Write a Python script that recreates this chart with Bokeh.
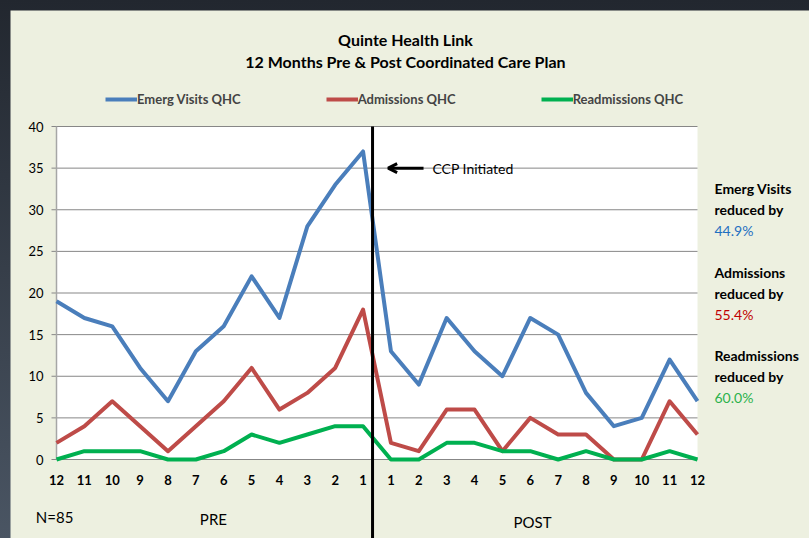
from bokeh.plotting import figure
from bokeh.models import Range1d, Label, Arrow, OpenHead, Legend, LegendItem, BoxAnnotation
from bokeh.core.properties import value
from bokeh.embed import file_html
from bokeh.resources import INLINE

# ---- data ----
months = ["12", "11", "10", "9", "8", "7", "6", "5", "4", "3", "2", "1",
          "1", "2", "3", "4", "5", "6", "7", "8", "9", "10", "11", "12"]
emerg_visits = [19, 17, 16, 11, 7, 13, 16, 22, 17, 28, 33, 37,
                13, 9, 17, 13, 10, 17, 15, 8, 4, 5, 12, 7]
admissions = [2, 4, 7, 4, 1, 4, 7, 11, 6, 8, 11, 18,
              2, 1, 6, 6, 1, 5, 3, 3, 0, 0, 7, 3]
readmissions = [0, 1, 1, 1, 0, 0, 1, 3, 2, 3, 4, 4,
                0, 0, 2, 2, 1, 1, 0, 1, 0, 0, 1, 0]
series_names = ["Emerg Visits QHC", "Admissions QHC", "Readmissions QHC"]
y_ticks = [0, 5, 10, 15, 20, 25, 30, 35, 40]
y_tick_labels = [str(t) for t in y_ticks]
reduction_names = ["Emerg Visits", "Admissions", "Readmissions"]
reduction_pcts = ["44.9%", "55.4%", "60.0%"]

# ---- style / geometry ----
BG = "#EDF0E0"
GRID = "#878787"
AXIS = "#A6A6A6"
LINE_COLORS = ["#4A7EBB", "#BE4B48", "#00B050"]
PCT_COLORS = ["#1F6FC0", "#C00000", "#2BB24C"]
FONT = "Lato"

W, H = 799, 528
PLOT_LEFT, PLOT_RIGHT, PLOT_TOP, PLOT_BOTTOM = 46, 687, 116, 449   # white plot area, px in figure
n = len(months)
px_per_x = (PLOT_RIGHT - PLOT_LEFT) / (n - 1)
px_per_y = (PLOT_BOTTOM - PLOT_TOP) / (y_ticks[-1] - y_ticks[0])
tick_len = 5 / px_per_x

x = list(range(n))

p = figure(width=W, height=H, output_backend="svg", toolbar_location=None,
           x_range=Range1d(-PLOT_LEFT / px_per_x, (W - PLOT_LEFT) / px_per_x),
           y_range=Range1d(-(H - PLOT_BOTTOM) / px_per_y, y_ticks[-1] + PLOT_TOP / px_per_y),
           x_axis_location=None, y_axis_location=None,
           min_border_left=0, min_border_right=0, min_border_top=0, min_border_bottom=0,
           background_fill_color=BG, border_fill_color=BG, outline_line_color=None)
p.grid.visible = False

# white plot area
p.add_layout(BoxAnnotation(left=0, right=n - 1, bottom=y_ticks[0], top=y_ticks[-1],
                           fill_color="white", fill_alpha=1, line_color=None, level="underlay"))

# horizontal gridlines (with outside tick marks)
p.segment(x0=[-tick_len] * len(y_ticks), x1=[n - 1] * len(y_ticks), y0=y_ticks, y1=y_ticks,
          line_color=GRID, line_width=1)
# y axis line
p.segment(x0=[0], x1=[0], y0=[y_ticks[0]], y1=[y_ticks[-1]], line_color=AXIS, line_width=1.5)

# y tick labels
p.text(x=[-13 / px_per_x] * len(y_ticks), y=y_ticks, text=y_tick_labels, text_align="right",
       text_baseline="middle", text_font=value(FONT), text_font_size="13px", text_color="black")

# x category labels
p.text(x=x, y=[-2.52] * n, text=months, text_align="center", text_baseline="middle",
       text_font=value(FONT), text_font_style="bold", text_font_size="13px", text_color="black")

# series
items = []
for vals, name, color in zip([emerg_visits, admissions, readmissions], series_names, LINE_COLORS):
    r = p.line(x, vals, line_width=4, line_color=color, line_join="round")
    items.append(LegendItem(label=name, renderers=[r]))

legend = Legend(items=items, orientation="horizontal", location=(95, 431), spacing=85,
                glyph_width=32, glyph_height=16, label_standoff=0, padding=0, margin=0,
                border_line_color=None, background_fill_alpha=0,
                label_text_font=FONT, label_text_font_style="bold", label_text_font_size="13px")
p.add_layout(legend)

# divider between PRE and POST
divider_x = 11.34
p.segment(x0=[divider_x], x1=[divider_x], y0=[y_ticks[-1]], y1=[-10], line_color="black", line_width=3)

# CCP Initiated arrow
p.add_layout(Arrow(end=OpenHead(size=9, line_width=3, line_color="black"),
                   x_start=13.17, y_start=35, x_end=11.9, y_end=35,
                   line_color="black", line_width=3))
p.add_layout(Label(x=13.49, y=35, text="CCP Initiated", text_baseline="middle",
                   text_font=FONT, text_font_size="14px", text_color="black"))

# title
p.add_layout(Label(x=12.52, y=50.5, text="Quinte Health Link", text_align="center",
                   text_baseline="middle", text_font=FONT, text_font_style="bold",
                   text_font_size="16px", text_color="black"))
p.add_layout(Label(x=12.52, y=47.8, text="12 Months Pre & Post Coordinated Care Plan",
                   text_align="center", text_baseline="middle", text_font=FONT,
                   text_font_style="bold", text_font_size="16px", text_color="black"))

# bottom labels
for tx, ty, t in [(-0.07, -6.85, "N=85"), (5.63, -7.09, "PRE"), (17.08, -7.45, "POST")]:
    p.add_layout(Label(x=tx, y=ty, text=t, text_align="center", text_baseline="middle",
                       text_font=FONT, text_font_size="15px", text_color="black"))

# reduction notes
note_y = [32.55, 22.46, 12.49]
for ny, nm, pct, pc in zip(note_y, reduction_names, reduction_pcts, PCT_COLORS):
    p.add_layout(Label(x=23.61, y=ny, text=nm, text_baseline="middle", text_font=FONT,
                       text_font_style="bold", text_font_size="14px", text_color="black"))
    p.add_layout(Label(x=23.61, y=ny - 2.52, text="reduced by", text_baseline="middle",
                       text_font=FONT, text_font_style="bold", text_font_size="14px",
                       text_color="black"))
    p.add_layout(Label(x=23.61, y=ny - 5.05, text=pct, text_baseline="middle", text_font=FONT,
                       text_font_size="14px", text_color=pc))

html = file_html(p, INLINE, title="Quinte Health Link")
style = ("<style>html{background:#23272E;} body{padding:10px 0 0 10px;"
         "background:linear-gradient(#22272F,#4A5563);}</style>")
html = html.replace("</head>", style + "</head>", 1)
open("out.html", "w").write(html)
